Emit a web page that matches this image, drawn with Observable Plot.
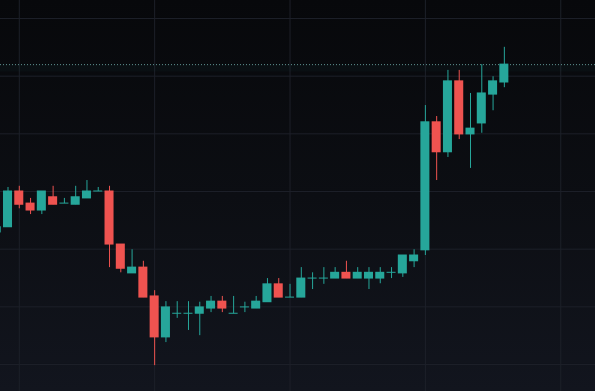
<!DOCTYPE html>
<html>
<head>
<meta charset="utf-8">
<script src="https://cdn.jsdelivr.net/npm/d3@7"></script>
<script src="https://cdn.jsdelivr.net/npm/@observablehq/plot@0.6"></script>
<style>
  html, body { margin: 0; padding: 0; width: 595px; height: 391px; overflow: hidden;
    background: linear-gradient(to bottom, #07080b 0%, #0c0e13 50%, #12151e 100%); }
  #chart svg { display: block; }
</style>
</head>
<body>
<div id="chart"></div>
<script>
// Candle OHLC values (price units; grid every 10)
const open  = [32.9, 33.8, 40.0, 37.9, 36.7, 39.0, 37.9, 37.7, 38.8, 40.0,
               40.0, 30.8, 25.8, 26.8, 21.8, 14.7, 18.8, 18.8, 18.8, 19.7,
               20.9, 18.8, 19.9, 19.7, 20.8, 23.9, 21.6, 21.6, 24.9, 24.9,
               24.9, 25.9, 24.9, 24.9, 24.9, 25.9, 25.8, 27.9, 29.8, 52.0,
               46.8, 59.1, 49.9, 51.8, 56.8, 58.9];
const high  = [33.9, 40.7, 40.9, 38.8, 40.0, 40.9, 38.8, 40.9, 41.9, 40.7,
               40.9, 30.8, 29.9, 27.9, 22.8, 20.9, 20.9, 20.9, 20.8, 21.8,
               21.8, 21.8, 20.8, 21.8, 24.9, 24.9, 23.9, 26.8, 25.9, 26.8,
               26.8, 27.9, 26.8, 26.8, 26.8, 26.8, 28.9, 29.9, 54.9, 53.0,
               61.0, 61.0, 57.0, 62.0, 59.9, 65.0];
const low   = [32.4, 33.8, 37.0, 36.0, 36.0, 37.7, 37.9, 37.7, 38.8, 40.0,
               26.8, 25.9, 25.8, 21.6, 9.8, 13.8, 18.0, 15.9, 15.0, 19.0,
               19.0, 18.8, 19.0, 19.7, 20.8, 21.6, 21.6, 21.6, 23.0, 23.9,
               24.9, 24.9, 24.9, 23.0, 24.0, 24.9, 25.1, 26.8, 28.9, 41.9,
               45.9, 49.0, 44.0, 50.1, 54.0, 58.0];
const close = [33.8, 40.0, 37.7, 36.7, 40.0, 37.7, 37.9, 39.0, 40.0, 40.0,
               30.8, 26.6, 26.8, 21.6, 14.7, 19.9, 18.8, 18.8, 19.9, 20.9,
               19.7, 18.8, 19.9, 20.9, 23.9, 21.6, 21.6, 24.9, 24.9, 24.9,
               25.9, 24.9, 25.9, 25.9, 25.9, 25.9, 28.9, 28.9, 52.0, 46.8,
               59.1, 49.9, 50.9, 57.0, 59.1, 62.0];
const priceGrid = [10, 20, 30, 40, 50, 60, 70];
const timeGrid = [2, 14, 26, 38, 50];
const lastPrice = close[close.length - 1];

const up = "#26a69a", down = "#ef5350";
const candles = open.map((o, i) => ({
  i, open: o, high: high[i], low: low[i], close: close[i],
  lo: Math.min(o, close[i]), hi: Math.max(o, close[i]),
  color: close[i] >= o ? up : down
}));

const chart = Plot.plot({
  width: 595,
  height: 391,
  margin: 0,
  x: { domain: [0.335, 53.08], axis: null },
  y: { domain: [5.318, 73.12], axis: null },
  style: { background: "transparent", overflow: "hidden" },
  marks: [
    Plot.ruleY(priceGrid, { stroke: "#1d2029", strokeWidth: 1 }),
    Plot.ruleX(timeGrid, { stroke: "#1d2029", strokeWidth: 1 }),
    Plot.rect([lastPrice], { x1: 0.335, x2: 53.08, y1: d => d - 1.3, y2: d => d,
      fill: "#1a6e68", fillOpacity: 0.06 }),
    Plot.ruleY([lastPrice], { stroke: "#5f918e", strokeWidth: 1, strokeDasharray: "1,2" }),
    Plot.ruleX(candles, { x: "i", y1: "low", y2: "high", stroke: "color", strokeWidth: 1 }),
    Plot.rect(candles, { x1: d => d.i - 0.4, x2: d => d.i + 0.4, y1: "lo", y2: "hi",
      fill: "color", insetTop: -0.5, insetBottom: -0.5 })
  ]
});
document.getElementById("chart").append(chart);
</script>
</body>
</html>
